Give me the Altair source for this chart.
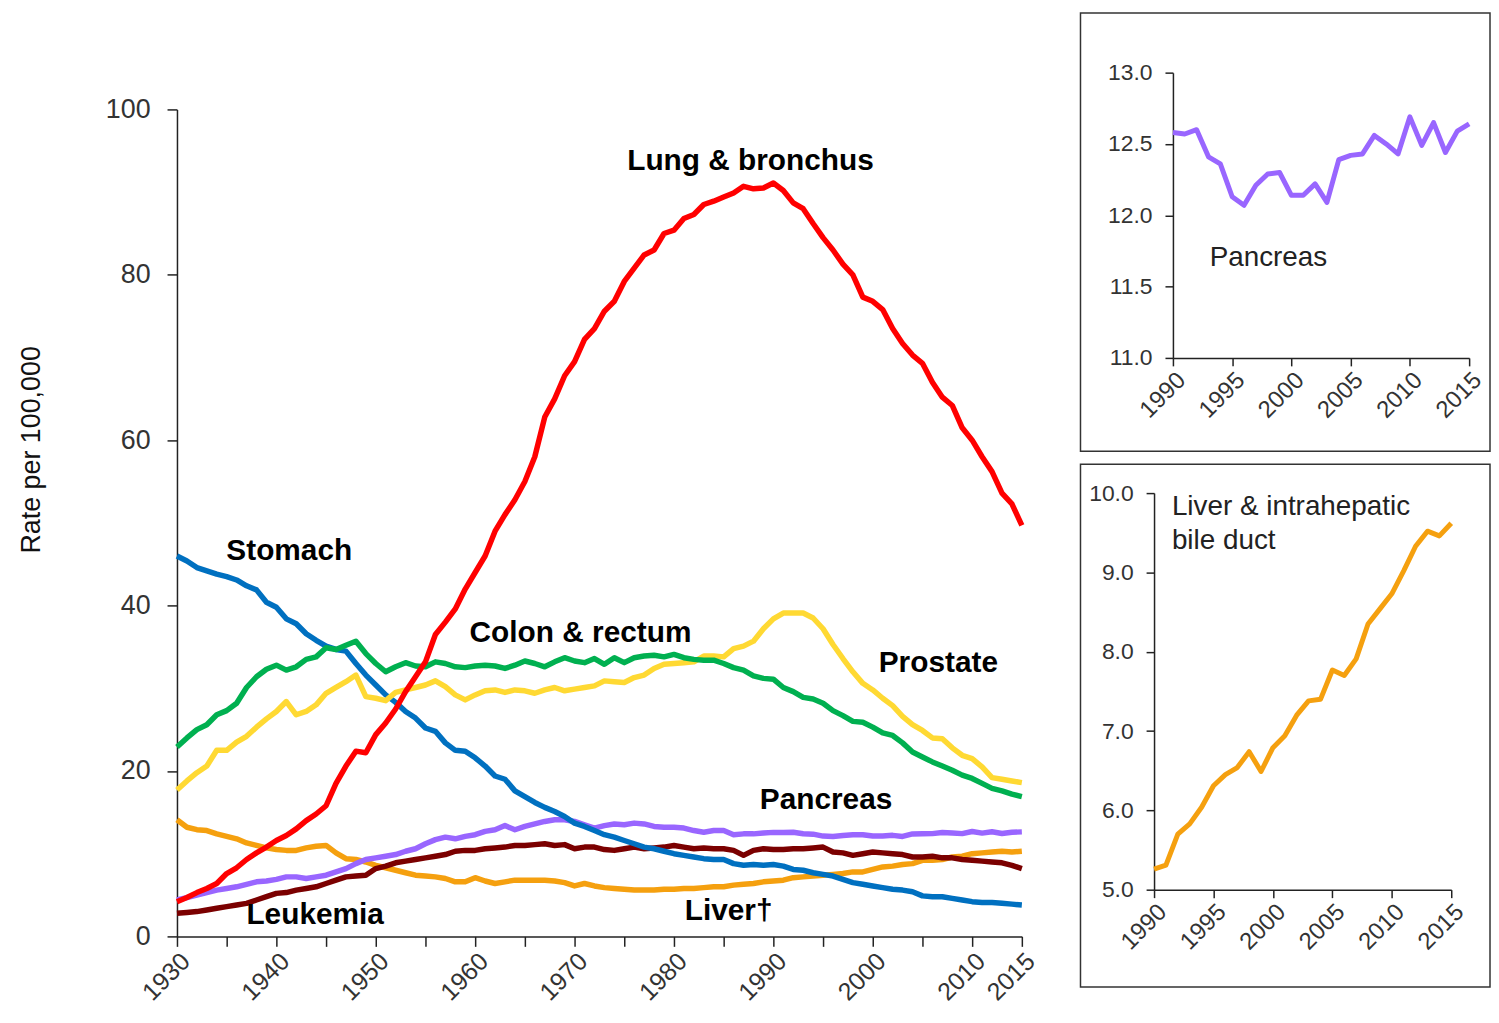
import altair as alt
import pandas as pd

# ---------------- data ----------------
years = list(range(1930, 2016))

lung = [4.2, 4.7, 5.3, 5.8, 6.4, 7.6, 8.3, 9.3, 10.1, 10.8,
        11.6, 12.2, 13.0, 14.0, 14.8, 15.8, 18.5, 20.6, 22.4, 22.2,
        24.4, 25.8, 27.5, 29.6, 31.4, 33.2, 36.5, 38.0, 39.6, 42.0,
        44.0, 46.0, 49.0, 51.0, 52.8, 55.0, 58.0, 62.8, 65.0, 67.8,
        69.5, 72.2, 73.5, 75.6, 76.8, 79.2, 80.8, 82.4, 83.0, 85.0,
        85.4, 86.8, 87.3, 88.5, 88.9, 89.4, 89.9, 90.7, 90.4, 90.5,
        91.1, 90.2, 88.7, 88.0, 86.2, 84.5, 83.0, 81.3, 80.0, 77.3,
        76.8, 75.8, 73.5, 71.7, 70.3, 69.3, 67.0, 65.2, 64.2, 61.5,
        60.0, 58.0, 56.2, 53.6, 52.3, 49.7]

stomach = [46.0, 45.4, 44.6, 44.2, 43.8, 43.5, 43.1, 42.4, 41.9, 40.4,
           39.8, 38.4, 37.8, 36.6, 35.8, 35.1, 34.7, 34.5, 33.0, 31.6,
           30.4, 29.2, 28.3, 27.2, 26.4, 25.2, 24.8, 23.4, 22.5, 22.4,
           21.6, 20.6, 19.4, 19.0, 17.6, 16.9, 16.2, 15.6, 15.1, 14.5,
           13.7, 13.3, 12.8, 12.3, 12.0, 11.6, 11.2, 10.8, 10.6, 10.3,
           10.0, 9.8, 9.6, 9.4, 9.3, 9.3, 8.8, 8.6, 8.7, 8.6,
           8.7, 8.5, 8.1, 8.0, 7.7, 7.5, 7.3, 6.9, 6.5, 6.3,
           6.1, 5.9, 5.7, 5.6, 5.4, 4.9, 4.8, 4.8, 4.6, 4.4,
           4.2, 4.1, 4.1, 4.0, 3.9, 3.8]

colon = [22.9, 24.0, 25.0, 25.6, 26.8, 27.3, 28.2, 30.1, 31.4, 32.3,
         32.8, 32.2, 32.6, 33.5, 33.8, 34.9, 34.7, 35.2, 35.7, 34.2,
         33.0, 32.0, 32.6, 33.1, 32.7, 32.6, 33.2, 33.0, 32.6, 32.5,
         32.7, 32.8, 32.7, 32.4, 32.8, 33.3, 33.0, 32.6, 33.2, 33.7,
         33.3, 33.1, 33.6, 32.9, 33.7, 33.1, 33.7, 33.9, 34.0, 33.8,
         34.1, 33.7, 33.5, 33.4, 33.4, 33.0, 32.5, 32.2, 31.5, 31.2,
         31.1, 30.1, 29.6, 28.9, 28.7, 28.2, 27.3, 26.7, 26.0, 25.9,
         25.3, 24.6, 24.3, 23.4, 22.3, 21.7, 21.1, 20.6, 20.1, 19.5,
         19.1, 18.5, 17.9, 17.6, 17.2, 16.9]

prostate = [17.7, 18.8, 19.8, 20.6, 22.5, 22.5, 23.5, 24.2, 25.3, 26.3,
            27.2, 28.4, 26.8, 27.2, 28.0, 29.4, 30.1, 30.8, 31.6, 29.0,
            28.8, 28.5, 29.5, 29.8, 30.1, 30.4, 30.9, 30.2, 29.2, 28.6,
            29.2, 29.7, 29.8, 29.5, 29.8, 29.7, 29.4, 29.8, 30.1, 29.7,
            29.9, 30.1, 30.3, 30.9, 30.8, 30.7, 31.3, 31.6, 32.4, 32.9,
            33.0, 33.1, 33.2, 33.9, 33.9, 33.8, 34.8, 35.1, 35.7, 37.2,
            38.4, 39.1, 39.1, 39.1, 38.5, 37.2, 35.3, 33.6, 32.0, 30.6,
            29.8, 28.8, 27.9, 26.6, 25.6, 24.9, 24.0, 23.9, 22.8, 21.9,
            21.5, 20.5, 19.2, 19.0, 18.8, 18.6]

pancreas = [4.4, 4.7, 5.0, 5.3, 5.6, 5.8, 6.0, 6.3, 6.6, 6.7,
            6.9, 7.2, 7.2, 7.0, 7.2, 7.4, 7.8, 8.2, 8.8, 9.3,
            9.5, 9.7, 9.9, 10.3, 10.6, 11.2, 11.7, 12.0, 11.8, 12.1,
            12.3, 12.7, 12.9, 13.4, 12.9, 13.3, 13.6, 13.9, 14.1, 14.1,
            13.9, 13.5, 13.1, 13.4, 13.6, 13.5, 13.7, 13.6, 13.3, 13.2,
            13.2, 13.1, 12.8, 12.6, 12.8, 12.8, 12.3, 12.4, 12.4, 12.5,
            12.58, 12.57, 12.60, 12.41, 12.36, 12.13, 12.07, 12.21, 12.29, 12.30,
            12.14, 12.14, 12.22, 12.09, 12.39, 12.42, 12.43, 12.56, 12.50, 12.43,
            12.69, 12.49, 12.65, 12.44, 12.59, 12.64]

liver = [14.1, 13.2, 12.9, 12.8, 12.4, 12.1, 11.8, 11.3, 11.0, 10.7,
         10.5, 10.4, 10.4, 10.7, 10.9, 11.0, 10.1, 9.4, 9.3, 9.0,
         8.6, 8.3, 8.0, 7.7, 7.4, 7.3, 7.2, 7.0, 6.6, 6.6,
         7.1, 6.7, 6.4, 6.6, 6.8, 6.8, 6.8, 6.8, 6.7, 6.5,
         6.1, 6.4, 6.1, 5.9, 5.8, 5.7, 5.6, 5.6, 5.6, 5.7,
         5.7, 5.8, 5.8, 5.9, 6.0, 6.0, 6.2, 6.3, 6.4, 6.6,
         6.7, 6.8, 7.1, 7.2, 7.3, 7.4, 7.5, 7.6, 7.8, 7.8,
         8.1, 8.4, 8.5, 8.7, 8.8, 9.2, 9.2, 9.3, 9.6, 9.7,
         10.0, 10.1, 10.2, 10.3, 10.2, 10.3]

leukemia = [2.8, 2.9, 3.0, 3.2, 3.4, 3.6, 3.8, 4.0, 4.4, 4.8,
            5.2, 5.3, 5.6, 5.8, 6.0, 6.4, 6.8, 7.2, 7.3, 7.4,
            8.2, 8.5, 8.9, 9.1, 9.3, 9.5, 9.7, 9.9, 10.3, 10.4,
            10.4, 10.6, 10.7, 10.8, 11.0, 11.0, 11.1, 11.2, 11.0, 11.1,
            10.6, 10.8, 10.8, 10.5, 10.4, 10.6, 10.8, 10.6, 10.7, 10.8,
            11.0, 10.8, 10.6, 10.7, 10.6, 10.6, 10.4, 9.8, 10.4, 10.6,
            10.5, 10.5, 10.6, 10.6, 10.7, 10.8, 10.2, 10.1, 9.8, 10.0,
            10.2, 10.1, 10.0, 9.9, 9.6, 9.6, 9.7, 9.5, 9.5, 9.3,
            9.2, 9.1, 9.0, 8.9, 8.6, 8.2]

inset_years = list(range(1990, 2016))
inset_pancreas = [12.58, 12.57, 12.60, 12.41, 12.36, 12.13, 12.07, 12.21, 12.29, 12.30,
                  12.14, 12.14, 12.22, 12.09, 12.39, 12.42, 12.43, 12.56, 12.50, 12.43,
                  12.69, 12.49, 12.65, 12.44, 12.59, 12.64]
inset_liver = [5.26, 5.31, 5.70, 5.83, 6.04, 6.31, 6.45, 6.54, 6.74, 6.49,
               6.79, 6.94, 7.20, 7.38, 7.40, 7.77, 7.70, 7.91, 8.35, 8.54,
               8.73, 9.02, 9.33, 9.52, 9.46, 9.62]

series_names = ["Liver", "Leukemia", "Pancreas", "Stomach", "Prostate", "Colon & rectum", "Lung & bronchus"]
series_values = [liver, leukemia, pancreas, stomach, prostate, colon, lung]
series_colors = ["#F5A00F", "#7B0000", "#9966FF", "#0070C0", "#FFD933", "#00B050", "#FF0000"]

label_text = ["Lung & bronchus", "Stomach", "Colon & rectum", "Prostate", "Pancreas", "Leukemia", "Liver\u2020"]
label_year = [1987.7, 1941.3, 1970.6, 2006.6, 1995.3, 1943.9, 1985.5]
label_rate = [93.7, 46.6, 36.7, 33.1, 16.5, 2.6, 3.1]

FONT = "Liberation Sans"

# ---------------- main chart ----------------
rows = []
for name, vals in zip(series_names, series_values):
    for y, v in zip(years, vals):
        rows.append({"series": name, "year": y, "rate": v})
main_df = pd.DataFrame(rows)

x_main = alt.X(
    "year:Q",
    scale=alt.Scale(domain=[1930, 2015], nice=False, zero=False),
    axis=alt.Axis(
        values=list(range(1930, 2016, 5)),
        labelExpr="(datum.value % 10 == 0 || datum.value == 2015) ? '' + datum.value : ''",
        labelAngle=-45, labelAlign="right", labelBaseline="top",
        tickSize=10, labelPadding=2, labelFontSize=25,
        labelOverlap=False, labelFlush=False, labelBound=False,
        title=None, grid=False,
    ),
)
y_main = alt.Y(
    "rate:Q",
    scale=alt.Scale(domain=[0, 100], nice=False),
    axis=alt.Axis(
        values=[0, 20, 40, 60, 80, 100],
        tickSize=10, labelPadding=17, labelFontSize=27,
        title="Rate per 100,000", titleFontSize=27, titleFontWeight="normal",
        titleColor="#111", titleX=-132, titleY=342,
        grid=False,
    ),
)

line_layers = []
for name, col in zip(series_names, series_colors):
    line_layers.append(
        alt.Chart(main_df[main_df["series"] == name])
        .mark_line(color=col, strokeWidth=5.5, strokeJoin="round")
        .encode(x=x_main, y=y_main)
    )

labels_df = pd.DataFrame({"text": label_text, "year": label_year, "rate": label_rate})
label_layer = (
    alt.Chart(labels_df)
    .mark_text(font=FONT, fontSize=30, fontWeight="bold", color="#000", align="center", baseline="middle")
    .encode(x=alt.X("year:Q"), y=alt.Y("rate:Q"), text="text:N")
)

main = alt.layer(*line_layers, label_layer).properties(width=850, height=832)

# invisible block above the main panel (keeps the main plot lower than the insets)
spacer = (
    alt.Chart(pd.DataFrame({"a": [0]}))
    .mark_rect(opacity=0)
    .encode(x=alt.value(0), x2=alt.value(880), y=alt.value(0), y2=alt.value(37))
    .properties(width=880, height=37)
)

left = alt.vconcat(spacer, main, spacing=0, bounds="flush")

# ---------------- insets ----------------
box_df = pd.DataFrame({"a": [0]})


def inset_axis_x(rng=None):
    if rng is None:
        sc = alt.Scale(domain=[1990, 2015], nice=False, zero=False)
    else:
        sc = alt.Scale(domain=[1990, 2015], nice=False, zero=False, range=rng)
    return alt.X(
        "year:Q",
        scale=sc,
        axis=alt.Axis(
            values=[1990, 1995, 2000, 2005, 2010, 2015],
            labelExpr="'' + datum.value",
            labelAngle=-45, labelAlign="right", labelBaseline="top",
            tickSize=8, labelPadding=2, labelFontSize=24,
            labelOverlap=False, labelFlush=False, labelBound=False,
            title=None, grid=False,
        ),
    )


# inset 1: pancreas
p_df = pd.DataFrame({"year": inset_years, "rate": inset_pancreas})
p_y = alt.Y(
    "rate:Q",
    scale=alt.Scale(domain=[11, 13], nice=False, zero=False),
    axis=alt.Axis(
        values=[11.0, 11.25, 11.5, 11.75, 12.0, 12.25, 12.5, 12.75, 13.0],
        labelExpr="((datum.value * 2) % 1 == 0) ? format(datum.value, '.1f') : ''",
        tickSize=8, labelPadding=13, labelFontSize=23, title=None, grid=False,
    ),
)
p_box = alt.Chart(box_df).mark_rect(fillOpacity=0, stroke="#333", strokeWidth=1.5).encode(
    x=alt.value(-93), x2=alt.value(319), y=alt.value(-60), y2=alt.value(381)
)
p_line = alt.Chart(p_df).mark_line(color="#9966FF", strokeWidth=5, strokeJoin="round").encode(
    x=inset_axis_x(), y=p_y
)
p_text = alt.Chart(pd.DataFrame({"text": ["Pancreas"], "year": [1993.1], "rate": [11.70]})).mark_text(
    font=FONT, fontSize=28, color="#222", align="left", baseline="middle"
).encode(x="year:Q", y="rate:Q", text="text:N")
inset1 = alt.layer(p_box, p_line, p_text).properties(width=298, height=287)

# inset 2: liver
l_df = pd.DataFrame({"year": inset_years, "rate": inset_liver})
l_y = alt.Y(
    "rate:Q",
    scale=alt.Scale(domain=[5, 10], nice=False, zero=False),
    axis=alt.Axis(
        values=[5.0, 5.5, 6.0, 6.5, 7.0, 7.5, 8.0, 8.5, 9.0, 9.5, 10.0],
        labelExpr="(datum.value % 1 == 0) ? format(datum.value, '.1f') : ''",
        tickSize=8, labelPadding=13, labelFontSize=23, title=None, grid=False,
        offset=19,
    ),
)
l_box = alt.Chart(box_df).mark_rect(fillOpacity=0, stroke="#333", strokeWidth=1.5).encode(
    x=alt.value(-93), x2=alt.value(319), y=alt.value(-29), y2=alt.value(497)
)
l_line = alt.Chart(l_df).mark_line(color="#F5A00F", strokeWidth=5, strokeJoin="round").encode(
    x=inset_axis_x([-19, 280]), y=l_y
)
l_text = alt.Chart(
    pd.DataFrame({"text": ["Liver & intrahepatic", "bile duct"], "year": [1991.5, 1991.5], "rate": [9.82, 9.39]})
).mark_text(font=FONT, fontSize=28, color="#222", align="left", baseline="middle").encode(
    x="year:Q", y="rate:Q", text="text:N"
)
inset2 = alt.layer(l_box, l_line, l_text).properties(width=280, height=399)

right = alt.vconcat(inset1, inset2, spacing=136, bounds="flush")

chart = (
    alt.hconcat(left, right, spacing=28)
    .properties(padding={"left": 10, "top": 1, "right": 0, "bottom": 0})
    .configure_view(stroke=None)
    .configure_axis(
        labelFont=FONT, titleFont=FONT, labelColor="#333",
        domainColor="#222", tickColor="#222", domainWidth=1.5, tickWidth=1.5,
    )
    .configure_text(font=FONT)
)

chart.save("out.html", embed_options={"renderer": "svg", "actions": False})
